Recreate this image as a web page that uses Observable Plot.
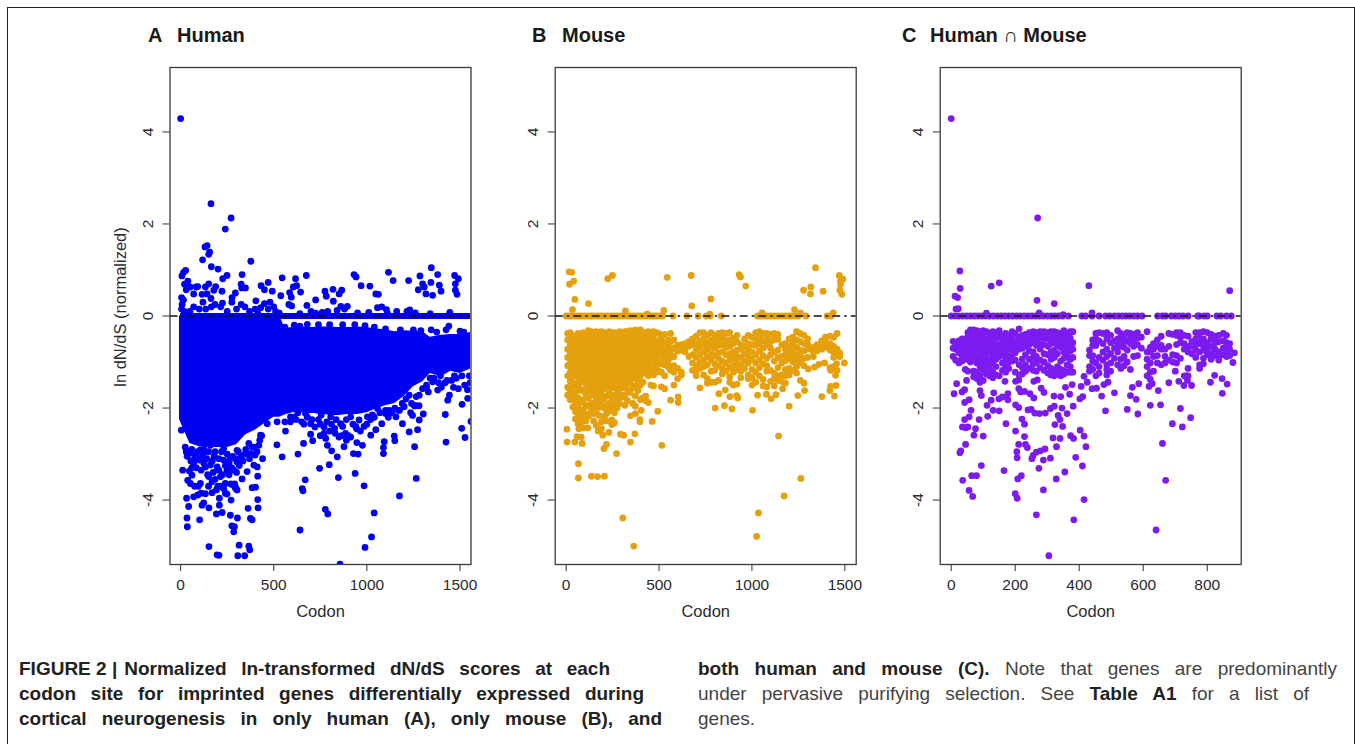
<!DOCTYPE html>
<html><head><meta charset="utf-8">
<script src="https://cdn.jsdelivr.net/npm/d3@7"></script>
<script src="https://cdn.jsdelivr.net/npm/@observablehq/plot@0.6"></script>
<style>
html,body{margin:0;padding:0;background:#fff}
#page{position:relative;width:1355px;height:744px;overflow:hidden;background:#fff;font-family:"Liberation Sans",Arial,sans-serif}
#page>div{position:absolute}
.panel svg{overflow:visible;background:transparent}
.head{font-weight:700;font-size:20px;color:#1a1a1a;white-space:pre;line-height:22px}
.cap{font-family:"Liberation Sans",sans-serif;font-size:19px;line-height:24px;color:#2b2b2b;white-space:nowrap;text-align:justify;text-align-last:justify}
.cap b{color:#222}
.cap .fig{display:inline-block;text-align-last:left;margin-right:7px;font-weight:700;color:#222}
.lt{color:#444}
#border{left:7px;top:7px;width:1348px;height:745px;border:1px solid #222;box-sizing:border-box}
</style></head><body>
<div id="page"><div id="border"></div></div>
<script>
const yTicks=[-4,-2,0,2,4];
const humanXTicks=[0,500,1000,1500], mouseXTicks=[0,500,1000,1500], bothXTicks=[0,200,400,600,800];
const blue="#0000f2", orange="#e5a00e", purple="#7c1bf0";

// Solid mass of panel A: codon, upper and lower limit of the overplotted points
const humanMassCodon=[-6,20,50,100,150,200,250,300,350,400,450,500,530,545,560,600,650,700,750,800,850,900,950,1000,1050,1100,1150,1200,1250,1300,1340,1400,1450,1500,1557];
const humanMassTop=[0,0,0,0,0,0,0,0,0,0,0,0,0,-.12,-.27,-.25,-.24,-.25,-.24,-.24,-.25,-.25,-.24,-.25,-.28,-.3,-.34,-.32,-.33,-.34,-.46,-.42,-.4,-.4,-.36];
const humanMassBottom=[-2.25,-2.5,-2.77,-2.84,-2.86,-2.86,-2.86,-2.8,-2.58,-2.48,-2.34,-2.2,-2.2,-2.18,-2.15,-2.1,-2.1,-2.12,-2.12,-2.16,-2.16,-2.14,-2.14,-2.1,-2.02,-1.95,-1.9,-1.75,-1.54,-1.43,-1.25,-1.32,-1.2,-1.25,-1.15];

const humanPoints=[[0,4.29],[163,2.44],[271,2.13],[240,1.89],[142,1.53],[131,1.5],[156,1.39],[151,1.34],[118,1.22],[377,1.19],[165,1.07],[201,1.02],[249,.88],[226,.81],[330,.9],[27,.99],[16,.95],[7,.87],[39,.76],[21,.69],[30,.57],[52,.63],[84,.63],[92,.64],[70,.48],[115,.47],[151,.7],[133,.63],[142,.48],[188,.64],[178,.56],[222,.54],[163,.38],[294,.5],[276,.4],[325,.69],[328,.61],[348,.61],[404,.33],[432,.66],[450,.57],[470,.73],[492,.54],[545,.83],[538,.44],[585,.51],[617,.81],[623,.66],[605,.63],[644,.52],[594,.41],[675,.88],[581,.25],[596,.22],[678,.23],[725,.35],[775,.54],[782,.43],[818,.58],[820,.32],[865,.56],[851,.48],[860,.21],[895,.21],[931,.9],[942,.85],[969,.66],[1016,.65],[1048,.48],[1062,.47],[1116,.95],[1141,.77],[1057,.18],[1080,.2],[1105,.14],[1224,.77],[1285,.87],[1276,.57],[1299,.7],[1308,.63],[1317,.48],[1346,1.05],[1344,.73],[1353,.45],[1380,.9],[1389,.67],[1398,.54],[1471,.88],[1491,.81],[1475,.7],[1475,.56],[1484,.47],
[5,.4],[8,.25],[5,.15],[15,.35],[20,.1],[50,.1],[70,.2],[100,.15],[120,.3],[135,.15],[165,.2],[185,.25],[215,.2],[225,.28],[250,.1],[275,.3],[300,.15],[325,.25],[345,.2],[370,.1],[400,.15],[415,.05],[430,.18],[450,.27],[470,.15],[480,.3],[500,.2],[510,.1],[530,.06],[640,.05],[700,.1],[725,.06],[760,.08],[790,.1],[840,.12],[880,.15],[950,.07],[1010,.08],[1110,.06],[1160,.1],[1215,.1],[1230,.13],[1260,.07],[1340,.05],[1445,.08],
[856,-5.39],[990,-5.03],[1025,-4.8],[1039,-4.28],[1175,-3.91],[1265,-3.53],[985,-3.69],[937,-3.42],[847,-3.51],[798,-3.23],[746,-3.31],[669,-3.56],[653,-3.75],[657,-3.8],[641,-4.65],[777,-4.2],[790,-4.3],[630,-3],[660,-2.77],[545,-3.06],[517,-2.8],[563,-2.5],[440,-3.1],[414,-3.48],[414,-3.99],[416,-4.17],[362,-4.18],[375,-4.4],[384,-4.43],[305,-4.39],[267,-4.33],[275,-4.56],[289,-4.58],[285,-4.69],[314,-4.98],[307,-5.21],[344,-5.21],[366,-5],[371,-5.08],[152,-5.01],[196,-5.19],[206,-5.2],[36,-4.58],[34,-4.39],[102,-4.43],[43,-4.14],[32,-3.96],[38,-3.57],[11,-3.35],[47,-3.37],[115,-4.11],[124,-4.06],[152,-4.17],[192,-4.3],[223,-4.27],[208,-4.11],[208,-3.96],[249,-3.87],[271,-4],[294,-3.71],[282,-3.67],[303,-3.78],[384,-3.73],[402,-3.72],[330,-3.54],[357,-3.38],[393,-3.24],[411,-3.28],[4,-2.48],[30,-2.95],[52,-3.64],[70,-3.93],[92,-3.89],[133,-3.86],[169,-3.84],[192,-3.78],[231,-3.75],[240,-3.64],[106,-3.64],[61,-3.46],[151,-3.49],[169,-3.6],[214,-3.49],[249,-3.35],[285,-3.35],[70,-3.2],[102,-3.13],[133,-3.28],[160,-3.24],[196,-3.28],[231,-3.13],[267,-3.1],[303,-3.17],[70,-2.99],[52,-2.95],[106,-2.91],[160,-2.81],[231,-2.88],[303,-2.92],[375,-2.99],[366,-2.77],[420,-2.81],[40,-3],[85,-3.05],[120,-3.02],[180,-3.05],[250,-3],[280,-3.05],[325,-3.05],[345,-3],[395,-2.85],[400,-3.02],
[25,-2.85],[35,-3.05],[60,-2.9],[75,-3.1],[90,-2.95],[110,-3.1],[125,-2.9],[140,-3.1],[150,-2.95],[170,-3.15],[185,-2.95],[205,-3.1],[220,-2.95],[240,-3.25],[260,-3.2],[275,-3.3],[295,-3.1],[315,-3.25],[310,-2.95],[335,-3.15],[350,-2.9],[370,-3.1],[385,-2.85],[410,-2.95],[425,-2.7],[435,-2.6],[60,-3.3],[85,-3.3],[110,-3.35],[145,-3.45],[175,-3.4],[205,-3.35],[225,-3.45],[260,-3.45],[300,-3.4],[55,-3.15],[125,-3.2],[150,-3.7],[185,-3.55],[200,-3.7],[215,-3.7],[270,-3.65],[290,-3.65],[295,-3.75],[75,-3.7],[95,-3.7],[110,-3.85],[240,-3.85],
[698,-2.34],[662,-2.35],[721,-2.41],[770,-2.41],[827,-2.44],[850,-2.63],[698,-2.57],[709,-2.71],[779,-2.66],[788,-2.81],[811,-2.93],[841,-3.06],[877,-2.84],[913,-2.63],[946,-2.75],[976,-2.81],[928,-2.99],[953,-3],[1021,-2.59],[1048,-2.47],[1080,-2.34],[1093,-2.73],[1089,-2.86],[1089,-2.99],[1147,-2.61],[1150,-2.71],[1191,-2.34],[1227,-2.52],[1256,-2.84],[1272,-2.47],[1245,-2.16],[1281,-2.26],[1303,-2.13],[1421,-2.14],[1425,-2.74],[1509,-2.44],[1527,-2.64],[1559,-2.29],[1511,-1.92],[1541,-1.79],[1491,-1.58],[1434,-1.83],[1443,-1.72],[1380,-1.61],[1353,-1.43],[1281,-1.72],[1299,-1.58],[1227,-1.72],[1200,-1.97],[1156,-2.19],[1120,-2.05],[1057,-2.01],[1003,-2.19],[958,-2.26],[913,-2.19],[859,-2.34],[806,-2.19],[734,-2.05],[671,-2.12],[590,-2.19],[518,-2.3],[465,-2.34],[429,-2.59],[1395,-1.3],[1420,-1.45],[1465,-1.55],[1510,-1.3],[1540,-1.6],[1550,-1.3],[1470,-1.3],[1340,-1.35],[1320,-1.55],[1260,-1.95],[1235,-2.1],[1170,-2.05],[1100,-2.12],[1030,-2.15],[940,-2.4],[885,-2.55],[800,-2.5],[750,-2.35],[630,-2.1],[610,-2.2],
[560,-2.3],[590,-2.3],[620,-2.25],[650,-2.3],[680,-2.2],[705,-2.25],[740,-2.25],[755,-2.15],[785,-2.3],[810,-2.35],[835,-2.25],[870,-2.4],[890,-2.25],[925,-2.35],[945,-2.45],[965,-2.5],[985,-2.4],[1000,-2.35],[1020,-2.25],[1040,-2.2],[1070,-2.1],[1100,-2.05],[1115,-2.2],[1135,-2.1],[1150,-2],[1175,-2.05],[1190,-1.9],[1210,-1.8],[1240,-1.9],[1265,-1.75],[1280,-1.95],[1255,-1.95],[1320,-1.5],[1330,-1.65],[1360,-1.35],[1385,-1.45],[1400,-1.55],[1430,-1.4],[1455,-1.4],[1480,-1.35],[1525,-1.5],[1555,-1.45],[865,-2.6],[890,-2.7],[900,-2.6],[770,-2.55],[750,-2.6],[830,-2.55],
[1440,-.22],[1425,-.3],[1345,-.3],[1375,-.35],[1500,-.33],[1520,-.35],[610,-.2],[680,-.18],[740,-.19],[800,-.19],[870,-.19],[935,-.19],[990,-.21],[1100,-.28],[1180,-.3],[1250,-.3],[1290,-.32],[560,-.24],[640,-.22],[1040,-.24]];
const humanZeroRange=[0,1557];

// Solid mass of panel B
const mouseMassCodon=[14,60,120,200,280,340,400,440];
const mouseMassTop=[-.5,-.45,-.42,-.42,-.42,-.4,-.42,-.5];
const mouseMassBottom=[-1.2,-1.4,-1.55,-1.55,-1.5,-1.45,-1.25,-1.05];

const mousePoints=[[364,-5],[305,-4.39],[1025,-4.79],[1035,-4.28],[1173,-3.91],[1263,-3.53],[1143,-2.61],[66,-3.52],[66,-3.21],[136,-3.48],[169,-3.49],[206,-3.48],[271,-2.99],[515,-2.81],[4,-2.46],[5,-2.74],[47,-2.74],[86,-2.77],[59,-2.62],[81,-2.63],[203,-2.88],[217,-2.79],[346,-2.74],[370,-2.56],[292,-2.57],[310,-2.59],[197,-2.59],[230,-2.53],[172,-2.5],[68,-2.45],[117,-2.43],[92,-2.43],[463,-2.29],[397,-2.3],[397,-2.25],[346,-2.17],[373,-2.12],[404,-2.05],[493,-2.07],[562,-1.83],[603,-1.76],[603,-1.88],[802,-2],[852,-1.95],[892,-2.02],[1003,-2.05],[1200,-1.96],[822,-1.69],[856,-1.61],[881,-1.75],[917,-1.73],[924,-1.78],[1030,-1.72],[1078,-1.7],[1103,-1.8],[1129,-1.71],[1165,-1.58],[1247,-1.73],[1283,-1.62],[1376,-1.75],[1444,-1.74],[1419,-1.62],[1453,-1.51],[1423,-1.53],[1497,-1.02],[1455,-1.04],[1391,-1.02],[1360,-1.05],[1337,-1.11],[1303,-1.15],[1450,-1.29],[1423,-1.18],
[16,.96],[30,.95],[41,.76],[18,.69],[47,.36],[120,.27],[34,.14],[224,.81],[249,.88],[544,.84],[673,.88],[676,.22],[779,.37],[931,.9],[938,.85],[967,.65],[1342,1.05],[1278,.56],[1317,.63],[1315,.48],[1383,.54],[1470,.88],[1489,.8],[1477,.77],[1477,.69],[1473,.56],[1484,.47],[319,.11],[526,.12],[1229,.14],[1261,.07],[1437,.07],[773,.04],[1055,.07],[436,.04]];
const mouseZeroCodons=[0,14,30,48,65,82,100,118,135,152,170,188,205,222,240,258,275,292,310,328,345,362,380,398,415,432,450,468,485,502,518,575,650,710,755,775,835,1030,1045,1060,1080,1100,1120,1140,1160,1180,1200,1215,1235,1250,1290,1405,1425];
const mouseColumns=[
[8,-.38,-.52,-.72,-.9,-1.08,-1.3,-1.55,-1.72],[22,-.36,-.48,-.62,-.8,-1.02,-1.22,-1.42,-1.62,-1.82],[36,-.42,-.6,-.76,-.94,-1.16,-1.32,-1.52,-1.74,-1.98],[50,-.46,-.66,-.84,-1.06,-1.26,-1.46,-1.66,-1.88,-2.08,-2.24],[64,-.38,-.56,-.72,-.9,-1.12,-1.3,-1.54,-1.78,-2,-2.2,-2.34],[78,-.4,-.5,-.68,-.86,-1.02,-1.24,-1.44,-1.62,-1.88,-2.12,-2.32],[92,-.36,-.54,-.7,-.94,-1.18,-1.38,-1.6,-1.82,-2.04,-2.22],[106,-.38,-.5,-.66,-.84,-1,-1.22,-1.46,-1.7,-1.94,-2.14,-2.28],[120,-.32,-.48,-.62,-.78,-.96,-1.14,-1.32,-1.56,-1.78,-1.96,-2.18],[134,-.34,-.52,-.7,-.88,-1.06,-1.26,-1.44,-1.64,-1.9,-2.08],[148,-.36,-.5,-.66,-.82,-1,-1.18,-1.36,-1.54,-1.72,-1.96,-2.12,-2.28],[162,-.34,-.48,-.62,-.78,-.94,-1.12,-1.3,-1.48,-1.66,-1.84,-2.04,-2.38],[176,-.38,-.54,-.72,-.88,-1.06,-1.24,-1.42,-1.6,-1.78,-1.98,-2.16],[190,-.34,-.5,-.66,-.8,-.98,-1.16,-1.34,-1.52,-1.7,-1.92,-2.3,-2.45],[204,-.36,-.52,-.68,-.86,-1.04,-1.2,-1.38,-1.58,-1.8,-2,-2.18],[218,-.38,-.54,-.7,-.84,-1,-1.18,-1.36,-1.54,-1.74,-1.94,-2.12,-2.28],[232,-.34,-.48,-.64,-.8,-.96,-1.14,-1.32,-1.5,-1.68,-1.9,-2.06],[246,-.36,-.52,-.68,-.84,-1.02,-1.2,-1.38,-1.56,-1.78,-2.02,-2.26,-2.36],[260,-.36,-.5,-.66,-.82,-1,-1.16,-1.34,-1.52,-1.72,-1.92,-2.1,-2.32],[274,-.38,-.54,-.72,-.88,-1.04,-1.22,-1.4,-1.6,-1.8,-2],[288,-.34,-.5,-.64,-.8,-.98,-1.14,-1.32,-1.5,-1.7,-1.9],[302,-.38,-.52,-.68,-.84,-1,-1.18,-1.36,-1.56,-1.76],[316,-.34,-.48,-.64,-.8,-.96,-1.12,-1.3,-1.5,-1.72,-1.94],[330,-.34,-.5,-.68,-.86,-1.02,-1.2,-1.38,-1.6,-1.84],[344,-.32,-.46,-.62,-.78,-.94,-1.1,-1.28,-1.46,-1.66],[358,-.34,-.52,-.7,-.86,-1.02,-1.18,-1.36,-1.56,-1.9],[372,-.3,-.46,-.62,-.8,-.98,-1.14,-1.32,-1.52,-1.74,-1.96],[386,-.36,-.5,-.66,-.82,-1,-1.2,-1.4,-1.62],[400,-.3,-.48,-.64,-.8,-.96,-1.14,-1.3,-1.5,-1.82],[414,-.4,-.56,-.72,-.88,-1.06,-1.24,-1.44,-1.78],[428,-.36,-.5,-.66,-.84,-1,-1.18,-1.74,-1.84],[442,-.34,-.48,-.62,-.78,-.96,-1.14,-1.3,-1.88],[456,-.38,-.52,-.7,-.86,-1.02,-1.2,-1.5],[470,-.34,-.48,-.64,-.82,-1,-1.16,-1.28,-1.52],[484,-.36,-.54,-.7,-.9,-1.1,-1.22],[498,-.38,-.6,-.78,-1,-1.2],[512,-.5,-.68,-.86,-1.04,-1.22,-1.54],[530,-.4,-.58,-.76,-.92,-1.06,-1.3,-1.58],[548,-.52,-.66,-.82,-1,-1.1],[562,-.38,-.56,-.76,-.9,-1.18],[580,-.52,-.7,-.88,-1.08,-1.22,-1.5],[600,-.64,-.76,-1.14,-1.36],[620,-.62,-.7,-.74,-1.22,-1.28],[640,-.6,-.72,-.78],[660,-.56,-.66,-.88],[680,-.5,-.62,-.84,-1.02,-1.18],[700,-.44,-.6,-.74,-.9,-1.08,-1.22,-1.3],[720,-.36,-.54,-.68,-.84,-1,-1.14,-1.56],[740,-.36,-.5,-.62,-.78,-.96,-1.1,-1.28],[760,-.42,-.58,-.72,-.88,-1.06,-1.36,-1.46],[780,-.36,-.52,-.66,-.82,-.96,-1.2,-1.44],[800,-.42,-.56,-.7,-.86,-1.04,-1.18,-1.44],[820,-.38,-.5,-.64,-.8,-.92,-1.08,-1.4],[840,-.36,-.48,-.62,-.78,-.98,-1.14,-1.26],[860,-.38,-.54,-.68,-.84,-1.02,-1.2],[880,-.36,-.52,-.66,-.82,-.96,-1.12,-1.32,-1.44],[900,-.48,-.6,-.78,-.92,-1.08,-1.22,-1.5],[920,-.42,-.56,-.74,-.88,-1.02,-1.16,-1.48],[940,-.62,-.72,-.9,-1.06,-1.2,-1.34],[960,-.5,-.66,-.82,-.98,-1.14],[980,-.42,-.6,-.74,-.88,-1.02,-1.28,-1.36],[1000,-.46,-.62,-.78,-.94,-1.16,-1.34,-1.5],[1020,-.36,-.5,-.64,-.84,-1.02,-1.22,-1.44],[1040,-.34,-.48,-.6,-.76,-.96,-1.12,-1.3],[1060,-.38,-.54,-.7,-.86,-1.04,-1.38,-1.52],[1080,-.38,-.5,-.62,-.92,-1.08,-1.2,-1.54],[1100,-.4,-.56,-.7,-.84,-1.18,-1.42],[1120,-.38,-.52,-.78,-.98,-1.24,-1.36,-1.52],[1140,-.4,-.5,-.74,-.9,-1.12,-1.3,-1.4],[1160,-.62,-.88,-1.02,-1.28,-1.42],[1180,-.6,-.72,-.84,-.98,-1.16,-1.3,-1.46],[1200,-.5,-.66,-.8,-.92,-1.14,-1.28],[1220,-.46,-.58,-.72,-.86,-1,-1.18],[1240,-.34,-.52,-.68,-.84,-.96,-1.1,-1.24],[1260,-.38,-.56,-.74,-.88,-1.02,-1.4],[1280,-.42,-.6,-.76,-.92,-1.08,-1.46],[1300,-.5,-.62,-.72,-.9],[1330,-.68,-.78,-.88],[1350,-.62,-.76],[1375,-.54,-.62,-.72],[1395,-.46,-.56,-.68],[1420,-.44,-.6,-.74,-1.12],[1440,-.46,-.66,-.8,-.9,-1.1],[1458,-.38,-.72,-.84,-1.18],[1472,-.8,-.88]];

const bothPoints=[[305,-5.21],[640,-4.65],[266,-4.32],[383,-4.43],[415,-3.99],[206,-3.96],[200,-3.86],[67,-3.92],[56,-3.79],[36,-3.57],[64,-3.47],[79,-3.47],[94,-3.25],[165,-3.36],[208,-3.54],[219,-3.47],[288,-3.78],[328,-3.54],[355,-3.39],[410,-3.26],[389,-3.07],[274,-3.31],[288,-3.13],[310,-3.09],[252,-3.1],[256,-3.03],[266,-2.96],[279,-2.93],[293,-2.89],[206,-3.08],[205,-2.95],[211,-2.79],[232,-2.79],[238,-2.86],[229,-2.62],[329,-2.84],[318,-2.65],[340,-2.66],[373,-2.6],[382,-2.66],[403,-2.48],[415,-2.61],[421,-2.84],[201,-2.5],[171,-2.34],[229,-2.35],[221,-2.24],[324,-2.36],[348,-2.4],[334,-2.16],[340,-2.25],[362,-2.12],[660,-2.77],[670,-3.57],[691,-2.34],[722,-2.41],[748,-2.21],[716,-2.01],[654,-1.93],[622,-1.94],[583,-2.13],[550,-2.03],[482,-2.06],[578,-1.81],[560,-1.73],[470,-1.74],[510,-1.67],[647,-1.62],[847,-1.68],[862,-1.48],[846,-1.36],[823,-1.29],[810,-1.44],[880,-1.01],[885,-.8],
[30,-2.93],[27,-2.97],[45,-2.79],[100,-2.61],[71,-2.59],[76,-2.45],[35,-2.41],[45,-2.43],[52,-2.41],[42,-2.25],[56,-2.19],[62,-2.05],[87,-2.25],[114,-2.18],[131,-2.05],[150,-2.06],[112,-1.94],[125,-1.83],[42,-1.88],[56,-1.82],[9,-1.69],[34,-1.65],[42,-1.6],[17,-1.47],[48,-1.4],[90,-1.62],[94,-1.73],[133,-1.67],[149,-1.8],[160,-1.76],[177,-1.82],[177,-1.69],[201,-1.93],[211,-1.99],[240,-2.04],[250,-2.03],[261,-2.11],[276,-2.12],[294,-2.11],[310,-2.01],[322,-1.96],[346,-2],[381,-1.96],[402,-1.8],[411,-1.75],[370,-1.7],[321,-1.74],[342,-1.75],[290,-1.66],[281,-1.57],[258,-1.78],[246,-1.69],[217,-1.65],[211,-1.58],[229,-1.64],[201,-1.42],[211,-1.39],[168,-1.42],[258,-1.42],[269,-1.39],[357,-1.55],[378,-1.49],[406,-1.53],[440,-1.58],[454,-1.57],[425,-1.44],[415,-1.31],[477,-1.49],[490,-1.44],[566,-1.55],[586,-1.47],[618,-1.53],[628,-1.47],[680,-1.45],[711,-1.42],[727,-1.51],[751,-1.51],[738,-1.4],[700,-1.2],[735,-1.3],
[0,4.29],[270,2.13],[27,.98],[28,.6],[12,.43],[20,.4],[125,.65],[150,.72],[268,.34],[322,.27],[430,.66],[870,.55],[15,.15],[22,.16],[110,.06],[275,.07],[440,.07],[350,.03],[875,.0]];
const bothZeroCodons=[0,12,24,36,48,60,72,84,96,108,120,132,144,156,168,180,192,204,216,228,240,252,264,276,288,300,312,324,336,348,366,408,420,440,462,482,495,510,522,534,546,558,570,582,596,645,660,670,688,700,712,724,740,770,775,790,800,830,842,860];
const bothColumns=[
[6,-.55,-.7,-.88],[14,-.6,-.72,-.96],[24,-.54,-.66,-.8,-1.02],[34,-.5,-.62,-.76,-.9,-.98],[44,-.5,-.64,-.78,-.94,-1.16],[52,-.36,-.46,-.6,-.72,-.9,-1.2],[60,-.3,-.42,-.56,-.68,-.82,-1],[70,-.3,-.4,-.52,-.66,-.78,-.94,-1.2,-1.32],[80,-.32,-.44,-.58,-.7,-.86,-1.02,-1.22,-1.36],[90,-.34,-.48,-.62,-.74,-.96,-1.1,-1.3,-1.44],[100,-.32,-.44,-.56,-.72,-.84,-1.02,-1.18,-1.4],[110,-.34,-.5,-.64,-.78,-.92,-1.08,-1.26],[120,-.38,-.52,-.66,-.8,-.98,-1.14,-1.3],[130,-.34,-.46,-.6,-.76,-.9,-1.02,-1.22,-1.34],[140,-.36,-.5,-.66,-.78,-.94,-1.1,-1.28],[150,-.32,-.46,-.62,-.76,-.88,-1.3],[160,-.44,-.58,-.72,-.84,-1.02,-1.18],[170,-.38,-.5,-.64,-.8,-.94,-1.08,-1.22],[180,-.42,-.56,-.7,-.86,-1,-1.14],[190,-.34,-.48,-.6,-.74,-.9,-.98],[200,-.38,-.54,-.68,-.8,-.96,-1.22],[212,-.28,-.46,-.6,-.72,-1.06,-1.28],[222,-.42,-.56,-.7,-.94,-1.12,-1.26],[232,-.4,-.52,-.66,-.84,-1.06,-1.2],[244,-.36,-.5,-.62,-.76,-.94,-1.14],[256,-.34,-.46,-.58,-.78,-.9,-1.04,-1.18],[266,-.36,-.5,-.64,-.88,-1.02,-1.2],[278,-.34,-.46,-.6,-.72,-.96,-1.12],[290,-.34,-.48,-.62,-.82,-1,-1.18],[302,-.36,-.5,-.66,-.84,-1.08,-1.24],[312,-.34,-.48,-.6,-.78,-.94,-1.14,-1.28],[322,-.34,-.46,-.58,-.74,-.9,-1.18,-1.3],[332,-.36,-.5,-.64,-.82,-1.1,-1.26],[342,-.38,-.54,-.68,-.98,-1.16,-1.3],[352,-.32,-.46,-.6,-.78,-.92,-1.18,-1.26],[362,-.4,-.56,-.7,-.84,-1.06,-1.22],[372,-.34,-.48,-.62,-.76,-.94,-1.1,-1.22],[380,-.34,-.58,-.72,-.9,-1.22],
[432,-.74,-.86,-1.1,-1.2],[442,-.52,-.64,-.86,-.98,-1.16],[452,-.38,-.5,-.64,-1.02,-1.3],[462,-.36,-.54,-.9,-1.1,-1.24],[474,-.38,-.6,-.78,-.96],[486,-.36,-.5,-.72,-.88,-1.06,-1.16,-1.28],[498,-.42,-.58,-.82,-1.02,-1.2],[510,-.54,-.7,-.92],[520,-.32,-.5,-.64,-.78,-1.06],[530,-.38,-.52,-.66,-.94,-1.14],[540,-.42,-.56,-.68,-.88,-1.08],[550,-.36,-.54,-.74,-1],[560,-.38,-.48,-.6,-1.16],[570,-.4,-.52,-.66,-.88],[582,-.36,-.48,-.62,-.86],[594,-.46,-.7],[612,-.34,-.78,-.94,-1.1,-1.3],[622,-.68,-.78,-1.02,-1.22,-1.38],[632,-.6,-.72,-.88,-1.2],[644,-.52,-.66,-.86,-1.02],[656,-.44,-.64,-.72,-1.06],[668,-.72,-.88,-1.02],[680,-.38,-.66,-.96],[692,-.4,-.84,-1],[704,-.36,-.42,-.62,-.86,-1.02],[716,-.36,-.46,-.58,-.92],[728,-.42,-.6,-.72,-1.3],[740,-.44,-.66,-.78,-1.14,-1.3],[752,-.56,-.66,-.82],[764,-.36,-.5,-.62,-.74,-.9],[776,-.36,-.48,-.6,-.78,-1.06,-1.14],[788,-.34,-.5,-.64,-.74,-.92,-1.04],[800,-.36,-.58,-.72,-.84],[812,-.4,-.5,-.66,-.82,-.94],[824,-.44,-.58,-.72,-.86],[836,-.42,-.56,-.78,-.9,-.96],[850,-.38,-.54,-.7,-.84],[860,-.42,-.58,-.66,-.78,-.88],[870,-.6,-.72,-.86]];

const expand=cols=>cols.flatMap(([x,...ys])=>ys.map(y=>[x,y]));
const page=document.getElementById("page");
const ORIGIN_TOP=20, FRAME_TOP=67, FRAME_BOTTOM=564;
function panel({left,frameLeft,frameRight,xDomain,xTicks,dots,color,yLabel,extra=[]}){
  const pw=470, ph=620, ml=frameLeft-left, mr=pw-(frameRight-left);
  const dotOpts={x:d=>d[0],y:d=>d[1],r:3.4,fill:color,clip:"frame"};
  const svg=Plot.plot({
    width:pw,height:ph,marginLeft:ml,marginRight:mr,marginTop:FRAME_TOP-ORIGIN_TOP,marginBottom:ORIGIN_TOP+ph-FRAME_BOTTOM,
    x:{domain:xDomain},y:{domain:[-5.4,5.4]},
    style:{fontFamily:"Liberation Sans, Arial, sans-serif",color:"#2b2b2b",background:"transparent"},
    marks:[
      ...extra,
      Plot.dot(dots,dotOpts),
      Plot.ruleY([0],{stroke:"#111",strokeWidth:1.5,strokeDasharray:"8 4 2.5 4"}),
      Plot.frame({stroke:"#3a3a3a",strokeWidth:1.3}),
      Plot.axisX(xTicks,{tickSize:7,tickPadding:7.5,fontSize:15.5,stroke:"#333",label:null,tickFormat:d=>String(d)}),
      Plot.axisY(yTicks,{tickSize:7,tickPadding:10,fontSize:15.5,stroke:"#333",tickRotate:-90,label:null,tickFormat:d=>String(d)}),
      Plot.text(["Codon"],{frameAnchor:"bottom",dy:52,fontSize:16.5,textAnchor:"middle",fill:"#2b2b2b"}),
      ...(yLabel?[Plot.text([yLabel],{frameAnchor:"left",textAnchor:"middle",rotate:-90,dx:-49,dy:-9,fontSize:16.5,fill:"#2b2b2b"})]:[])
    ]
  });
  const holder=document.createElement("div");
  holder.className="panel";holder.style.left=left+"px";holder.style.top=ORIGIN_TOP+"px";
  holder.appendChild(svg);page.appendChild(holder);
}
const humanMass=humanMassCodon.map((c,i)=>({c,t:humanMassTop[i],b:humanMassBottom[i]}));
const mouseMass=mouseMassCodon.map((c,i)=>({c,t:mouseMassTop[i],b:mouseMassBottom[i]}));
panel({left:80,frameLeft:169.5,frameRight:470.5,xDomain:[-57,1559],xTicks:humanXTicks,color:blue,yLabel:"ln dN/dS (normalized)",
  dots:humanPoints,
  extra:[Plot.areaY(humanMass,{x:"c",y1:"t",y2:"b",fill:blue,clip:"frame"}),
         Plot.ruleY([0],{x1:humanZeroRange[0],x2:humanZeroRange[1],stroke:blue,strokeWidth:6,clip:"frame"})]});
panel({left:465,frameLeft:554.7,frameRight:855.7,xDomain:[-59,1561],xTicks:mouseXTicks,color:orange,yLabel:null,
  dots:[...mousePoints,...expand(mouseColumns),...mouseZeroCodons.map(c=>[c,0])],
  extra:[Plot.areaY(mouseMass,{x:"c",y1:"t",y2:"b",fill:orange})]});
panel({left:850,frameLeft:939.7,frameRight:1240.7,xDomain:[-34.4,906],xTicks:bothXTicks,color:purple,yLabel:null,
  dots:[...bothPoints,...expand(bothColumns),...bothZeroCodons.map(c=>[c,0])]});

function head(x,y,t){const d=document.createElement("div");d.className="head";d.style.left=x+"px";d.style.top=y+"px";d.textContent=t;page.appendChild(d);}
head(148,24,"A");head(177,24,"Human");
head(532,24,"B");head(562,24,"Mouse");
head(902,24,"C");head(930,24,"Human ∩ Mouse");

const captionLines=[
 [19,657,591,'<span class="fig">FIGURE 2 |</span><b>Normalized ln-transformed dN/dS scores at each</b>'],
 [19,682,625,'<b>codon site for imprinted genes differentially expressed during</b>'],
 [19,707,643,'<b>cortical neurogenesis in only human (A), only mouse (B), and</b>'],
 [698,657,639,'<b>both human and mouse (C).</b> <span class="lt">Note that genes are predominantly</span>'],
 [698,682,611,'<span class="lt">under pervasive purifying selection. See</span> <b>Table A1</b> <span class="lt">for a list of</span>'],
 [698,707,56,'<span class="lt">genes.</span>']];
captionLines.forEach(([x,y,w,h])=>{const d=document.createElement("div");d.className="cap";d.style.left=x+"px";d.style.top=y+"px";d.style.width=w+"px";d.innerHTML=h;page.appendChild(d);});
</script>
</body></html>
